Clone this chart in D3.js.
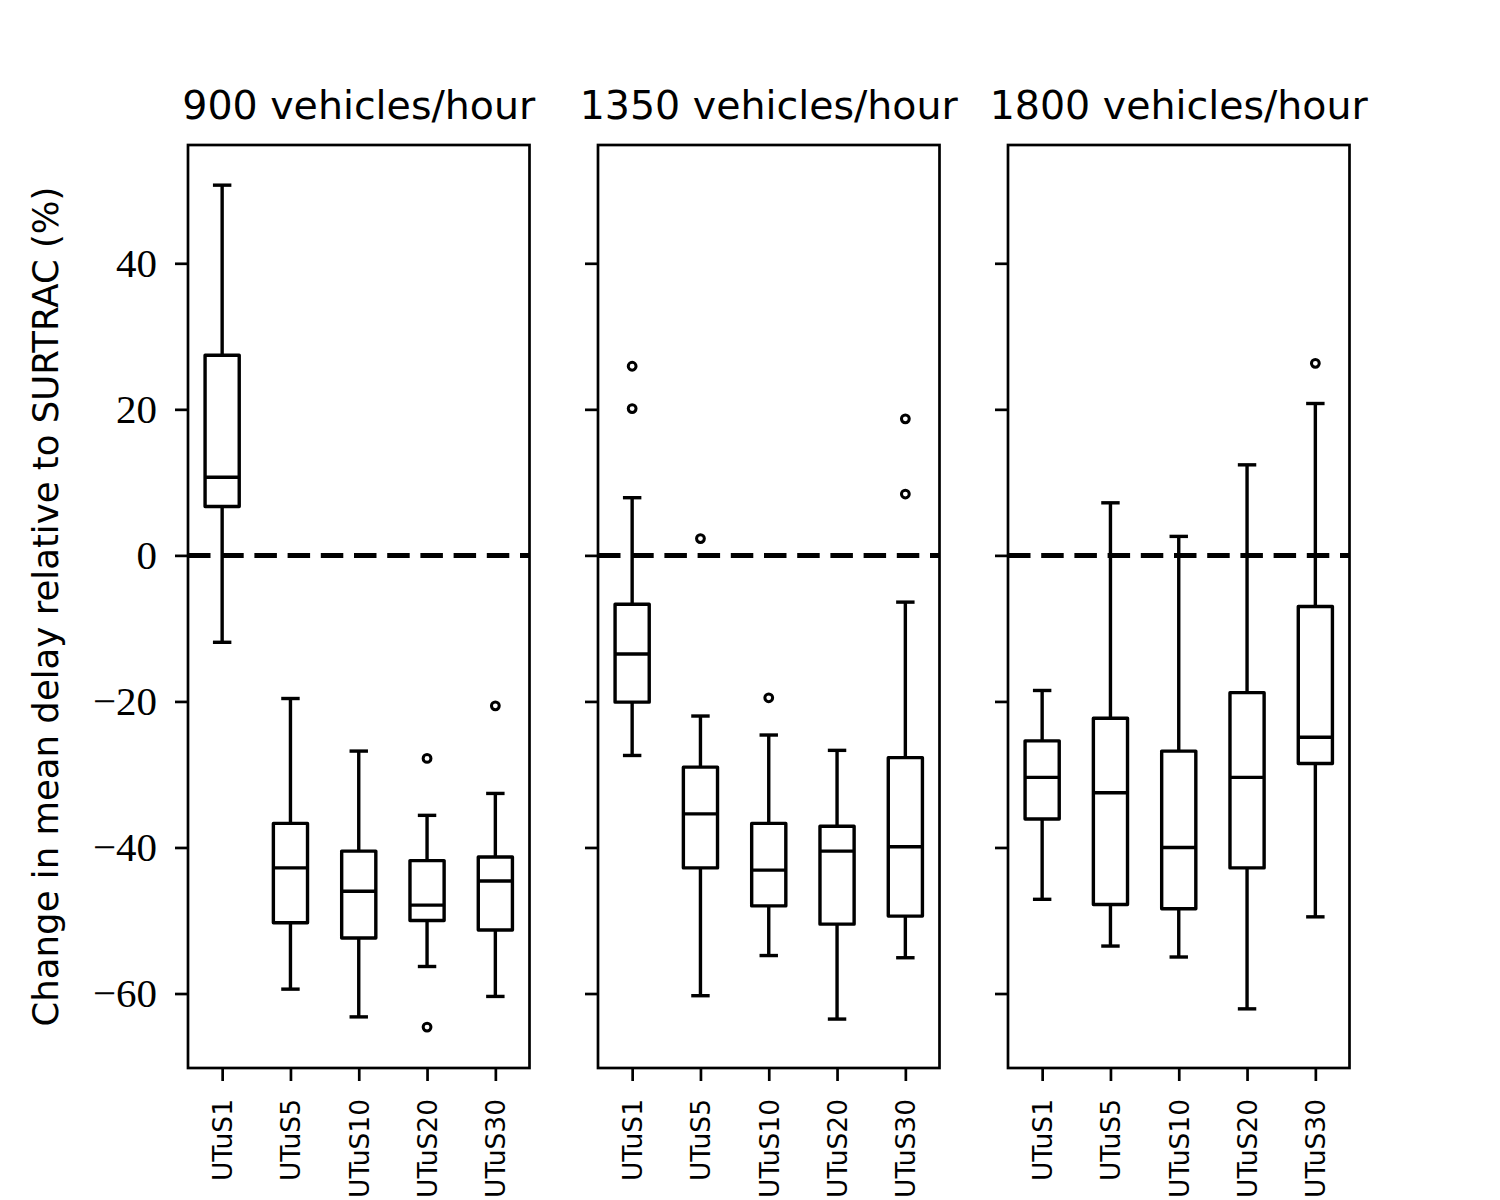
<!DOCTYPE html>
<html>
<head>
<meta charset="utf-8">
<script src="https://cdn.jsdelivr.net/npm/d3@7"></script>
<style>
  body { margin: 0; background: #fff; }
</style>
</head>
<body>
<svg id="chart" width="1500" height="1200"></svg>
<script>
const strategies = ['UTuS1', 'UTuS5', 'UTuS10', 'UTuS20', 'UTuS30'];
const flows = ['900 vehicles/hour', '1350 vehicles/hour', '1800 vehicles/hour'];
const yTicks = [-60, -40, -20, 0, 20, 40];

// [lower whisker, q1, median, q3, upper whisker] for each strategy
const stats900 = [
  [-11.9, 6.7, 10.7, 27.4, 50.7],
  [-59.4, -50.3, -42.8, -36.7, -19.6],
  [-63.2, -52.4, -46.0, -40.5, -26.8],
  [-56.3, -50.0, -47.9, -41.8, -35.6],
  [-60.4, -51.3, -44.6, -41.3, -32.6],
];
const stats1350 = [
  [-27.4, -20.1, -13.5, -6.7, 7.9],
  [-60.3, -42.8, -35.4, -29.0, -22.0],
  [-54.8, -48.0, -43.1, -36.7, -24.6],
  [-63.5, -50.5, -40.5, -37.1, -26.7],
  [-55.1, -49.4, -39.9, -27.7, -6.4],
];
const stats1800 = [
  [-47.1, -36.1, -30.4, -25.4, -18.5],
  [-53.5, -47.8, -32.5, -22.3, 7.2],
  [-55.0, -48.4, -40.0, -26.8, 2.6],
  [-62.1, -42.8, -30.4, -18.8, 12.4],
  [-49.5, -28.5, -24.9, -7.0, 20.8],
];

// outliers: [strategy, value]
const fliers900 = [['UTuS20', -27.8], ['UTuS20', -64.6], ['UTuS30', -20.6]];
const fliers1350 = [['UTuS1', 25.9], ['UTuS1', 20.1], ['UTuS5', 2.3],
  ['UTuS10', -19.5], ['UTuS30', 18.7], ['UTuS30', 8.4]];
const fliers1800 = [['UTuS30', 26.3]];

const panels = [
  { title: flows[0], stats: stats900, fliers: fliers900 },
  { title: flows[1], stats: stats1350, fliers: fliers1350 },
  { title: flows[2], stats: stats1800, fliers: fliers1800 },
];

const svg = d3.select('#chart');
const panelLeft = [188, 598, 1008];
const panelW = 341.5;
const plotTop = 145;
const panelH = 923;
const lw = 3.4;

const y = d3.scaleLinear().domain([-70.2, 56.2]).range([plotTop + panelH, plotTop]);
const x = d3.scalePoint().domain(strategies).range([0, panelW]).padding(0.5);
const boxW = x.step() * 0.5;
const capW = x.step() * 0.27;

const fmt = (d) => (d < 0 ? `\u2212${Math.abs(d)}` : `${d}`);

panels.forEach((p, pi) => {
  const g = svg.append('g').attr('transform', `translate(${panelLeft[pi]},0)`);

  // y axis (labels only on first panel)
  const ya = g.append('g')
    .call(d3.axisLeft(y).tickValues(yTicks).tickSize(13).tickPadding(18)
      .tickFormat(pi === 0 ? fmt : ''));
  ya.select('.domain').remove();
  ya.selectAll('line').attr('stroke', '#000').attr('stroke-width', 2.7);
  ya.selectAll('text')
    .attr('font-family', '"Liberation Serif", serif')
    .attr('font-size', 41)
    .attr('fill', '#000');

  // x axis
  const xa = g.append('g')
    .attr('transform', `translate(0,${plotTop + panelH})`)
    .call(d3.axisBottom(x).tickSize(13));
  xa.select('.domain').remove();
  xa.selectAll('line').attr('stroke', '#000').attr('stroke-width', 2.7);
  xa.selectAll('text')
    .attr('transform', 'rotate(-90)')
    .attr('x', -31)
    .attr('y', 0)
    .attr('dy', '0.36em')
    .attr('text-anchor', 'end')
    .attr('font-family', '"DejaVu Sans", sans-serif')
    .attr('font-size', 26.5)
    .attr('fill', '#000');

  // zero reference line
  g.append('line')
    .attr('x1', 0).attr('x2', panelW)
    .attr('y1', y(0)).attr('y2', y(0))
    .attr('stroke', '#000')
    .attr('stroke-width', 5)
    .attr('stroke-dasharray', '22.5 10.7');

  // boxes
  const b = g.selectAll('.box')
    .data(p.stats.map((s, i) => ({ name: strategies[i], s })))
    .enter()
    .append('g')
    .attr('class', 'box')
    .attr('transform', (d) => `translate(${x(d.name)},0)`)
    .attr('stroke', '#000')
    .attr('stroke-width', lw)
    .attr('fill', 'none');

  b.append('line').attr('y1', (d) => y(d.s[0])).attr('y2', (d) => y(d.s[1]));
  b.append('line').attr('y1', (d) => y(d.s[3])).attr('y2', (d) => y(d.s[4]));
  b.append('line').attr('x1', -capW / 2).attr('x2', capW / 2)
    .attr('y1', (d) => y(d.s[0])).attr('y2', (d) => y(d.s[0]));
  b.append('line').attr('x1', -capW / 2).attr('x2', capW / 2)
    .attr('y1', (d) => y(d.s[4])).attr('y2', (d) => y(d.s[4]));
  b.append('rect')
    .attr('x', -boxW / 2)
    .attr('width', boxW)
    .attr('y', (d) => y(d.s[3]))
    .attr('height', (d) => y(d.s[1]) - y(d.s[3]))
    .attr('stroke-linejoin', 'round');
  b.append('line').attr('x1', -boxW / 2).attr('x2', boxW / 2)
    .attr('y1', (d) => y(d.s[2])).attr('y2', (d) => y(d.s[2]));

  // outliers
  g.selectAll('.flier')
    .data(p.fliers)
    .enter()
    .append('circle')
    .attr('class', 'flier')
    .attr('cx', (d) => x(d[0]))
    .attr('cy', (d) => y(d[1]))
    .attr('r', 3.9)
    .attr('fill', 'none')
    .attr('stroke', '#000')
    .attr('stroke-width', 3);

  // frame
  g.append('rect')
    .attr('x', 0).attr('y', plotTop)
    .attr('width', panelW).attr('height', panelH)
    .attr('fill', 'none')
    .attr('stroke', '#000')
    .attr('stroke-width', 2.7);

  // title
  g.append('text')
    .attr('x', panelW / 2)
    .attr('y', 119)
    .attr('text-anchor', 'middle')
    .attr('font-family', '"DejaVu Sans", sans-serif')
    .attr('font-size', 39.5)
    .attr('fill', '#000')
    .text(p.title);
});

// y label
svg.append('text')
  .attr('transform', `translate(58,${plotTop + panelH / 2}) rotate(-90)`)
  .attr('text-anchor', 'middle')
  .attr('font-family', '"DejaVu Sans", sans-serif')
  .attr('font-size', 35.5)
  .attr('fill', '#000')
  .text('Change in mean delay relative to SURTRAC (%)');
</script>
</body>
</html>
